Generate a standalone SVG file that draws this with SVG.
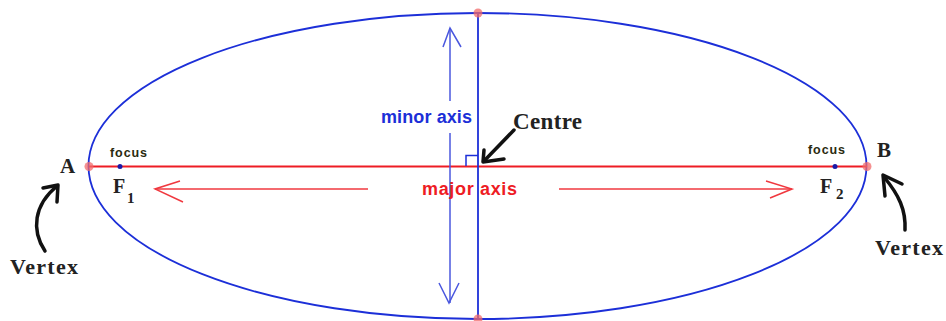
<svg xmlns="http://www.w3.org/2000/svg" width="946" height="321" viewBox="0 0 946 321">
<style>
.serif{font-family:"Liberation Serif","Times New Roman",serif;font-weight:bold;fill:#222}
.sans{font-family:"Liberation Sans",Arial,sans-serif;font-weight:bold}
.blk{fill:none;stroke:#111;stroke-width:3.5;stroke-linecap:round;stroke-linejoin:round}
.vtx{fill:#f26b6b;fill-opacity:0.75}
.focus{fill:#1a1aa8}
</style>
<rect width="946" height="321" fill="#fff"/>
<g id="ellipse">
<ellipse cx="477.5" cy="166" rx="389" ry="153" fill="none" stroke="#1c2fd8" stroke-width="1.8"/>
</g>
<g id="connectors">
<line id="major-axis-line" x1="89" y1="166.5" x2="867" y2="166.5" stroke="#ee1c24" stroke-width="1.8"/>
<line id="minor-axis-line" x1="478" y1="13" x2="478" y2="319" stroke="#1c2fd8" stroke-width="1.8"/>
<path id="right-angle" d="M466,166 V155.5 H478" fill="none" stroke="#1c2fd8" stroke-width="1.5"/>
<g id="minor-arrow" fill="none" stroke="#4a57de" stroke-width="1.5">
<line x1="450" y1="28" x2="450" y2="101"/>
<line x1="450" y1="133" x2="450" y2="303"/>
<polyline points="443,47 450,28 461,47"/>
<polyline points="439,283 449,303 459,283"/>
</g>
<g id="major-arrows" fill="none" stroke="#f0383f" stroke-width="1.5">
<line x1="155" y1="189" x2="368" y2="189"/>
<polyline points="180,181 155,189 183,202"/>
<line x1="559" y1="189" x2="792" y2="189"/>
<polyline points="766,181 792,189 770,198"/>
</g>
<g id="centre-arrow">
<line class="blk" x1="514" y1="130" x2="485" y2="160"/>
<polyline class="blk" points="484,150 483,162 504,159"/>
</g>
<g id="vertex-arrow-left">
<path class="blk" d="M45,251 C31,230 34,205 57,186"/>
<polyline class="blk" points="43,188 58,185 57,202"/>
</g>
<g id="vertex-arrow-right">
<path class="blk" d="M905,230 C906,210 899,195 884,177"/>
<polyline class="blk" points="902,184 883,175 885,196"/>
</g>
</g>
<g id="vertex-A-point"><circle class="vtx" cx="89" cy="166.5" r="4.5"/></g>
<g id="vertex-B-point"><circle class="vtx" cx="867" cy="166.5" r="4.5"/></g>
<g id="top-point"><circle class="vtx" cx="478" cy="13" r="4.5"/></g>
<g id="bottom-point"><circle class="vtx" cx="478" cy="319" r="4.5"/></g>
<g id="focus-1">
<circle class="focus" cx="120" cy="166.5" r="2.5"/>
<text class="sans" x="110" y="157" font-size="12.5" fill="#2a2a10" textLength="37">focus</text>
<text class="serif" x="113" y="193" font-size="20">F</text>
<text class="serif" x="127" y="203" font-size="15">1</text>
</g>
<g id="focus-2">
<circle class="focus" cx="835" cy="166.5" r="2.5"/>
<text class="sans" x="808" y="154" font-size="12.5" fill="#2a2a10" textLength="37">focus</text>
<text class="serif" x="820" y="193" font-size="20">F</text>
<text class="serif" x="836" y="199" font-size="15">2</text>
</g>
<g id="label-A"><text class="serif" x="60" y="173" font-size="21">A</text></g>
<g id="label-B"><text class="serif" x="877" y="157" font-size="21">B</text></g>
<g id="vertex-left"><text class="serif" x="10" y="274" font-size="22" textLength="68">Vertex</text></g>
<g id="vertex-right"><text class="serif" x="875" y="255" font-size="22" textLength="68">Vertex</text></g>
<g id="centre-label"><text class="serif" x="513" y="129" font-size="23" textLength="69">Centre</text></g>
<g id="minor-axis-label"><text class="sans" x="381" y="123" font-size="18" fill="#1c2fd8" textLength="91">minor axis</text></g>
<g id="major-axis-label"><text class="sans" x="422" y="195" font-size="18" fill="#ee1c24" textLength="95">major axis</text></g>
</svg>
